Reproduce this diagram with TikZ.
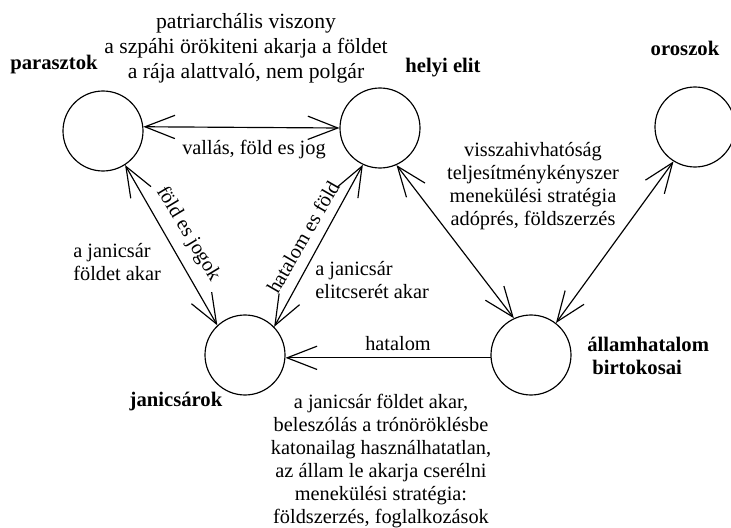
\documentclass[tikz,border=0pt]{standalone}
\usepackage{fontspec}
\setmainfont{Liberation Serif}
\usetikzlibrary{arrows.meta, positioning}
\tikzset{
    arrow/.style={
        line width=0.7pt,
        <->,
        >={Straight Barb[length=18pt,width=14pt]}
    }
}

\begin{document}
\begin{tikzpicture}[
    x=0.6pt, y=-0.6pt,
    actor/.style={
        circle,
        draw,
        line width=0.7pt,
        minimum size=48pt,
        inner sep=0pt
    },
    actorname/.style={font=\fontsize{12.4}{14}\selectfont\bfseries, inner sep=0pt},
    remark/.style={font=\fontsize{12.2}{13.7}\selectfont, align=center, inner sep=0pt}
]
\useasboundingbox (0,0) rectangle (731,528);

% Circles
\node[actor] (parasztok) at (103,131) {};
\node[actor] (helyi) at (380,128) {};
\node[actor] (oroszok) at (695,127) {};
\node[actor] (janicsarok) at (245,355) {};
\node[actor] (allam) at (531,355) {};

% Names
\node[actorname] (parasztokname) at (54,65) {parasztok};
\node[actorname] (helyiname) at (443,68) {helyi elit};
\node[actorname] (oroszokname) at (685,48) {oroszok};
\node[actorname] (janicsarokname) at (176,402) {janicsárok};
\node[actorname, align=left, anchor=west] (allamname) at (587,356) {államhatalom\\\hspace{3pt}birtokosai};

% Texts
\node[remark, font=\fontsize{13}{15}\selectfont] (toptext) at (246,48) {patriarchális viszony\\a szpáhi örökiteni akarja a földet\\a rája alattvaló, nem polgár};
\node[remark] (vallas) at (254,150) {vallás, föld es jog};
\node[remark] (visszahiv) at (533,186) {visszahivhatóság\\teljesítménykényszer\\menekülési stratégia\\adóprés, földszerzés};
\node[remark, align=left, anchor=west] (leftwish) at (73,262) {a janicsár\\földet akar};
\node[remark, align=left, anchor=west] (rightwish) at (315,280) {a janicsár\\elitcserét akar};
\node[remark, rotate=-59] (foldjog) at (188,234) {föld es jogok};
\node[remark, rotate=60] (hatalomfold) at (303,237) {hatalom es föld};
\node[remark] (hatalom) at (398,344) {hatalom};
\node[remark] (bottomtext) at (381,461) {a janicsár földet akar,\\beleszólás a trónöröklésbe\\katonailag használhatatlan,\\az állam le akarja cserélni\\menekülési stratégia:\\földszerzés, foglalkozások};

% Arrows
\draw[arrow] (parasztok.6) -- (helyi.180);
\draw[arrow] (parasztok.-57) -- (janicsarok.133);
\draw[arrow] (janicsarok.44) -- (helyi.-115);
\draw[arrow] (helyi.-66) -- (allam.115);
\draw[arrow] (oroszok.-122) -- (allam.52);
\draw[arrow, ->] (allam.184) -- (janicsarok.-4);

\end{tikzpicture}
\end{document}
